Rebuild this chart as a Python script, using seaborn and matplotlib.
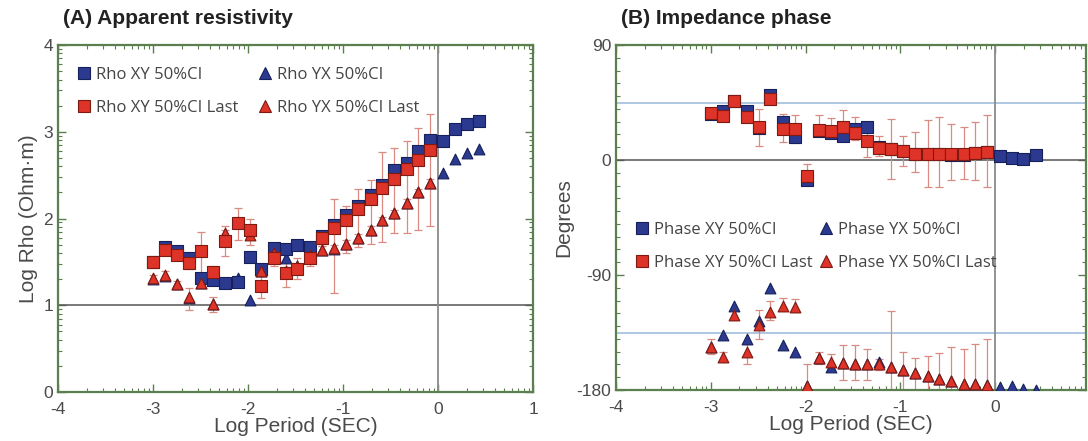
import numpy as np
import pandas as pd
import matplotlib
matplotlib.use("Agg")
import matplotlib.pyplot as plt
import matplotlib.ticker as mticker
from matplotlib.lines import Line2D
import seaborn as sns

sns.set_style("ticks")
plt.rcParams['font.family'] = ['Liberation Sans Narrow', 'Liberation Sans', 'DejaVu Sans']
plt.rcParams['axes.unicode_minus'] = False

# log10 period (sec) of each sounding frequency
period = [-3.00, -2.87, -2.75, -2.62, -2.49, -2.37, -2.24, -2.11, -1.98, -1.86,
          -1.73, -1.60, -1.48, -1.35, -1.22, -1.10, -0.97, -0.84, -0.71, -0.59,
          -0.46, -0.33, -0.21, -0.08, 0.05, 0.18, 0.30, 0.43]
n_last = 24  # "Last" runs stop before period 0

# (A) apparent resistivity, log10 ohm-m
rho_xy = [1.50, 1.67, 1.62, 1.54, 1.32, 1.29, 1.26, 1.27, 1.56, 1.42,
          1.66, 1.65, 1.69, 1.67, 1.80, 1.92, 2.04, 2.15, 2.27, 2.39,
          2.56, 2.64, 2.78, 2.91, 2.89, 3.03, 3.09, 3.12]
rho_yx = [1.30, 1.34, 1.24, 1.08, 1.26, 1.02, 1.82, 1.32, 1.06, 1.40,
          1.60, 1.55, 1.45, 1.67, 1.64, 1.65, 1.71, 1.78, 1.87, 1.98,
          2.06, 2.18, 2.30, 2.41, 2.52, 2.69, 2.75, 2.80]
rho_xy_last = [1.50, 1.64, 1.58, 1.49, 1.63, 1.38, 1.74, 1.95, 1.87, 1.22,
               1.55, 1.37, 1.42, 1.54, 1.77, 1.89, 1.98, 2.11, 2.23, 2.35,
               2.46, 2.57, 2.68, 2.79]
rho_yx_last = [1.31, 1.35, 1.24, 1.09, 1.26, 1.02, 1.83, 1.96, 1.81, 1.40,
               1.60, 1.40, 1.45, 1.58, 1.64, 1.66, 1.71, 1.78, 1.87, 1.98,
               2.06, 2.18, 2.30, 2.41]
rho_xy_lo = [1.44, 1.58, 1.52, 1.42, 1.33, 1.25, 1.57, 1.75, 1.69, 1.08,
             1.45, 1.21, 1.30, 1.45, 1.68, 1.14, 1.60, 1.67, 1.71, 1.73,
             1.83, 1.83, 1.87, 1.91]
rho_xy_hi = [1.55, 1.70, 1.64, 1.56, 1.84, 1.45, 1.91, 2.12, 2.00, 1.35,
             1.72, 1.66, 1.55, 1.66, 1.85, 2.22, 2.14, 2.34, 2.44, 2.77,
             2.81, 2.89, 3.04, 3.21]
rho_yx_lo = [1.27, 1.31, 1.20, 0.95, 1.22, 0.92, 1.79, 1.92, 1.77, 1.36,
             1.56, 1.36, 1.41, 1.54, 1.60, 1.62, 1.67, 1.74, 1.83, 1.94,
             2.02, 2.14, 2.26, 2.37]
rho_yx_hi = [1.35, 1.39, 1.28, 1.20, 1.30, 1.10, 1.87, 2.00, 1.85, 1.44,
             1.64, 1.44, 1.49, 1.62, 1.68, 1.70, 1.75, 1.82, 1.91, 2.02,
             2.10, 2.22, 2.34, 2.45]

# (B) impedance phase, degrees
ph_xy = [36, 38, 46, 38, 25, 51, 30, 18, -16, 23,
         21, 19, 24, 26, 10, 9, 7, 5, 5, 4.5,
         4, 4, 5.5, 6, 3, 1.3, 0.5, 3.7]
ph_yx = [-146, -137, -114, -140, -126, -100, -145, -150, -177, -155,
         -162, -159, -160, -160, -158, -162, -164, -167, -169, -171,
         -173, -175, -175, -176, -178, -177, -179, -180]
ph_xy_last = [36.5, 34.5, 46, 34, 25.5, 48, 24.5, 24, -12.5, 23.5,
              23, 25.5, 21, 15, 9.5, 9, 7, 5, 5, 4.5,
              4.5, 4.5, 5.8, 6.3]
ph_yx_last = [-146, -154, -121, -150, -129, -119, -114, -115, -177, -155,
              -158, -159, -160, -160, -160, -162, -164, -167, -169, -171,
              -173, -175, -175, -176]
ph_xy_lo = [33, 31, 43, 31, 11, 45, 14, 13, -19, 20,
            19, 15, 16, 2, 3, -15, -5, -9, -21, -21,
            -16, -15, -16, -21]
ph_xy_hi = [39, 37, 49, 37, 40, 51, 36, 35, -3, 35,
            33, 39, 34, 26, 19, 32, 19, 22, 31, 34,
            28, 26, 30, 35]
ph_yx_lo = [-152, -158, -125, -160, -140, -125, -118, -119, -185, -160,
            -164, -172, -172, -172, -164, -185, -185, -185, -185, -185,
            -185, -185, -185, -185]
ph_yx_hi = [-140, -150, -117, -144, -117, -110, -108, -109, -160, -150,
            -152, -145, -145, -148, -156, -118, -150, -155, -153, -151,
            -146, -148, -144, -140]

blue, blue_edge = "#2b3a8f", "#16205a"
red, red_edge = "#dd3328", "#7d1a12"
bar_col = "#d98b82"
spine_col = "#5b7f4e"
txt_col = "#4a4a4a"

fig = plt.figure(figsize=(10.88, 4.41), dpi=100)
axA = fig.add_axes([0.0533, 0.1111, 0.4366, 0.7868])
axB = fig.add_axes([0.5662, 0.1156, 0.432, 0.7823])


def style_axis(ax, ymajor, yminor, xmax):
    ax.set_xlim(-4, xmax)
    ax.xaxis.set_major_locator(mticker.FixedLocator([-4, -3, -2, -1, 0, 1]))
    xminor = [d + np.log10(m) for d in range(-4, 1) for m in range(2, 10)]
    ax.xaxis.set_minor_locator(mticker.FixedLocator(xminor))
    ax.yaxis.set_major_locator(mticker.FixedLocator(ymajor))
    ax.yaxis.set_minor_locator(mticker.FixedLocator(yminor))
    ax.tick_params(which="both", direction="in", top=True, right=True,
                   color=spine_col, labelcolor=txt_col, labelsize=12.5)
    ax.tick_params(which="major", length=6, width=1)
    ax.tick_params(which="minor", length=3, width=0.8)
    ax.tick_params(axis="x", which="major", pad=7)
    for s in ax.spines.values():
        s.set_color(spine_col)
        s.set_linewidth(1.6)
    ax.set_xlabel("Log Period (SEC)", fontsize=15, color=txt_col, labelpad=0)


def draw_bars(ax, x, val, lo, hi):
    v = np.array(val)
    ax.errorbar(x, v, yerr=[v - np.array(lo), np.array(hi) - v], fmt="none",
                ecolor=bar_col, elinewidth=0.9, capsize=3, capthick=0.9, zorder=2)


def draw_points(ax, x, y, marker, face, edge, size):
    df = pd.DataFrame({"x": x, "y": y})
    sns.scatterplot(data=df, x="x", y="y", ax=ax, marker=marker, s=size,
                    color=face, edgecolor=edge, linewidth=0.8, zorder=3, legend=False)


# ---------- (A) ----------
axA.axhline(1, color="#555555", lw=1.1, zorder=1)
axA.axvline(0, color="#8a8a8a", lw=1.3, zorder=1)
draw_bars(axA, period[:n_last], rho_yx_last, rho_yx_lo, rho_yx_hi)
draw_bars(axA, period[:n_last], rho_xy_last, rho_xy_lo, rho_xy_hi)
draw_points(axA, period, rho_yx, "^", blue, blue_edge, 60)
draw_points(axA, period, rho_xy, "s", blue, blue_edge, 66)
draw_points(axA, period[:n_last], rho_yx_last, "^", red, red_edge, 60)
draw_points(axA, period[:n_last], rho_xy_last, "s", red, red_edge, 66)
axA.set_ylim(0, 4)
yminA = [d + np.log10(m) for d in range(0, 4) for m in range(2, 10)]
style_axis(axA, [0, 1, 2, 3, 4], yminA, 1)
axA.set_ylabel("Log Rho (Ohm\u00b7m)", fontsize=15, color=txt_col, labelpad=4)
axA.text(0.01, 1.05, "(A) Apparent resistivity", transform=axA.transAxes,
         fontsize=15, fontweight="bold", color="#222222", va="bottom")

# ---------- (B) ----------
axB.axhline(45, color="#a8c3df", lw=1.3, zorder=1)
axB.axhline(-135, color="#a8c3df", lw=1.3, zorder=1)
axB.axhline(0, color="#555555", lw=1.1, zorder=1)
axB.axvline(0, color="#8a8a8a", lw=1.3, zorder=1)
draw_bars(axB, period[:n_last], ph_yx_last, ph_yx_lo, ph_yx_hi)
draw_bars(axB, period[:n_last], ph_xy_last, ph_xy_lo, ph_xy_hi)
draw_points(axB, period, ph_yx, "^", blue, blue_edge, 60)
draw_points(axB, period, ph_xy, "s", blue, blue_edge, 66)
draw_points(axB, period[:n_last], ph_yx_last, "^", red, red_edge, 60)
draw_points(axB, period[:n_last], ph_xy_last, "s", red, red_edge, 66)
axB.set_ylim(-180, 90)
style_axis(axB, [-180, -90, 0, 90], list(range(-180, 91, 10)), 0.96)
axB.set_ylabel("Degrees", fontsize=15, color=txt_col, labelpad=2)
axB.text(0.01, 1.05, "(B) Impedance phase", transform=axB.transAxes,
         fontsize=15, fontweight="bold", color="#222222", va="bottom")


def legend_handles(prefix):
    mk = dict(linestyle="none", markersize=8, markeredgewidth=0.8)
    return [
        Line2D([], [], marker="s", color=blue, markeredgecolor=blue_edge, label=prefix + " XY 50%CI", **mk),
        Line2D([], [], marker="s", color=red, markeredgecolor=red_edge, label=prefix + " XY 50%CI Last", **mk),
        Line2D([], [], marker="^", color=blue, markeredgecolor=blue_edge, label=prefix + " YX 50%CI", **mk),
        Line2D([], [], marker="^", color=red, markeredgecolor=red_edge, label=prefix + " YX 50%CI Last", **mk),
    ]


legA = axA.legend(handles=legend_handles("Rho"), ncol=2, loc="upper left",
                  bbox_to_anchor=(0.01, 0.98), frameon=False,
                  handlelength=0.8, handletextpad=0.3, columnspacing=1.2,
                  labelspacing=1.0, prop={"family": ["Open Sans", "DejaVu Sans"], "size": 12})
legB = axB.legend(handles=legend_handles("Phase"), ncol=2, loc="upper left",
                  bbox_to_anchor=(0.01, 0.53), frameon=False,
                  handlelength=0.8, handletextpad=0.3, columnspacing=0.4,
                  labelspacing=1.0, prop={"family": ["Open Sans", "DejaVu Sans"], "size": 12})
for leg in (legA, legB):
    for t in leg.get_texts():
        t.set_color("#444444")

fig.savefig("out.png", dpi=100)
